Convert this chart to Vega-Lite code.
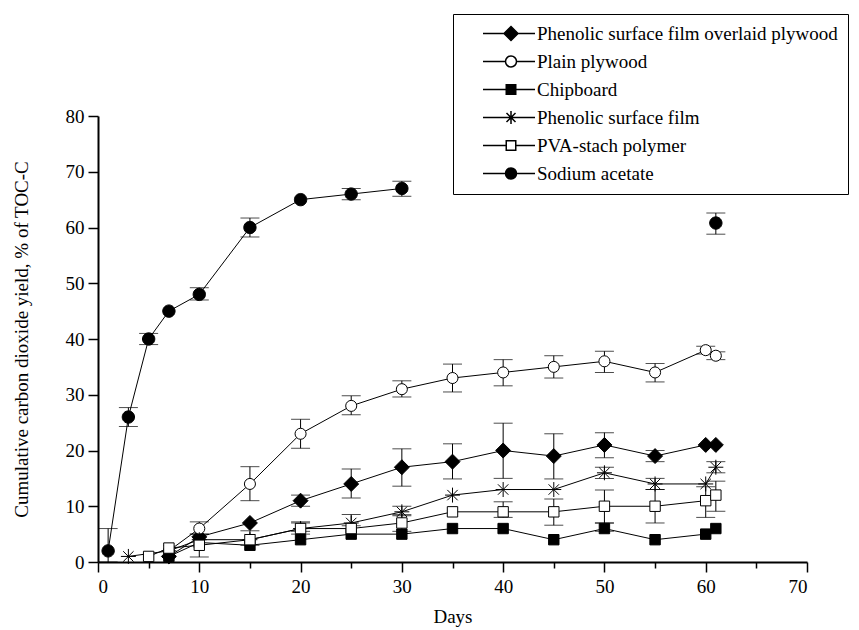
{
  "$schema": "https://vega.github.io/schema/vega-lite/v6.json",
  "width": 709,
  "height": 446,
  "autosize": {"type": "none"},
  "padding": {"left": 98, "top": 116, "right": 52, "bottom": 68},
  "background": "white",
  "config": {
    "view": {"stroke": null},
    "font": "Liberation Serif, Times New Roman, serif",
    "axis": {
      "grid": false,
      "domainColor": "black",
      "domainWidth": 2,
      "tickColor": "black",
      "tickWidth": 1.5,
      "labelColor": "black",
      "titleColor": "black",
      "labelFont": "Liberation Serif, Times New Roman, serif",
      "titleFont": "Liberation Serif, Times New Roman, serif",
      "labelFontSize": 19,
      "titleFontSize": 19,
      "titleFontWeight": "normal"
    }
  },
  "data": {
    "values": [
      {"series": "Phenolic surface film overlaid plywood", "grp": "a", "day": 7, "y": 1},
      {"series": "Phenolic surface film overlaid plywood", "grp": "a", "day": 10, "y": 4.5},
      {"series": "Phenolic surface film overlaid plywood", "grp": "a", "day": 15, "y": 7},
      {"series": "Phenolic surface film overlaid plywood", "grp": "a", "day": 20, "y": 11, "lo": 10, "hi": 12},
      {"series": "Phenolic surface film overlaid plywood", "grp": "a", "day": 25, "y": 14, "lo": 11.5, "hi": 16.7},
      {"series": "Phenolic surface film overlaid plywood", "grp": "a", "day": 30, "y": 17, "lo": 13.6, "hi": 20.3},
      {"series": "Phenolic surface film overlaid plywood", "grp": "a", "day": 35, "y": 18, "lo": 14.9, "hi": 21.2},
      {"series": "Phenolic surface film overlaid plywood", "grp": "a", "day": 40, "y": 20, "lo": 15, "hi": 24.9},
      {"series": "Phenolic surface film overlaid plywood", "grp": "a", "day": 45, "y": 19, "lo": 14.9, "hi": 23},
      {"series": "Phenolic surface film overlaid plywood", "grp": "a", "day": 50, "y": 21, "lo": 18.7, "hi": 23.2},
      {"series": "Phenolic surface film overlaid plywood", "grp": "a", "day": 55, "y": 19, "lo": 18, "hi": 20},
      {"series": "Phenolic surface film overlaid plywood", "grp": "a", "day": 60, "y": 21},
      {"series": "Phenolic surface film overlaid plywood", "grp": "a", "day": 61, "y": 21},

      {"series": "Plain plywood", "grp": "b", "day": 7, "y": 2},
      {"series": "Plain plywood", "grp": "b", "day": 10, "y": 6, "lo": 5, "hi": 7.2},
      {"series": "Plain plywood", "grp": "b", "day": 15, "y": 14, "lo": 11, "hi": 17.1},
      {"series": "Plain plywood", "grp": "b", "day": 20, "y": 23, "lo": 20.4, "hi": 25.6},
      {"series": "Plain plywood", "grp": "b", "day": 25, "y": 28, "lo": 26.4, "hi": 29.8},
      {"series": "Plain plywood", "grp": "b", "day": 30, "y": 31, "lo": 29.6, "hi": 32.5},
      {"series": "Plain plywood", "grp": "b", "day": 35, "y": 33, "lo": 30.5, "hi": 35.5},
      {"series": "Plain plywood", "grp": "b", "day": 40, "y": 34, "lo": 31.6, "hi": 36.3},
      {"series": "Plain plywood", "grp": "b", "day": 45, "y": 35, "lo": 33, "hi": 37},
      {"series": "Plain plywood", "grp": "b", "day": 50, "y": 36, "lo": 34, "hi": 37.8},
      {"series": "Plain plywood", "grp": "b", "day": 55, "y": 34, "lo": 32.3, "hi": 35.6},
      {"series": "Plain plywood", "grp": "b", "day": 60, "y": 38, "lo": 37.3, "hi": 38.7},
      {"series": "Plain plywood", "grp": "b", "day": 61, "y": 37, "lo": 36.3, "hi": 37.7},

      {"series": "Chipboard", "grp": "c", "day": 7, "y": 1},
      {"series": "Chipboard", "grp": "c", "day": 10, "y": 3.5},
      {"series": "Chipboard", "grp": "c", "day": 15, "y": 3},
      {"series": "Chipboard", "grp": "c", "day": 20, "y": 4},
      {"series": "Chipboard", "grp": "c", "day": 25, "y": 5},
      {"series": "Chipboard", "grp": "c", "day": 30, "y": 5},
      {"series": "Chipboard", "grp": "c", "day": 35, "y": 6},
      {"series": "Chipboard", "grp": "c", "day": 40, "y": 6},
      {"series": "Chipboard", "grp": "c", "day": 45, "y": 4},
      {"series": "Chipboard", "grp": "c", "day": 50, "y": 6, "lo": 5.5, "hi": 7},
      {"series": "Chipboard", "grp": "c", "day": 55, "y": 4},
      {"series": "Chipboard", "grp": "c", "day": 60, "y": 5},
      {"series": "Chipboard", "grp": "c", "day": 61, "y": 6},

      {"series": "Phenolic surface film", "grp": "d", "day": 3, "y": 1},
      {"series": "Phenolic surface film", "grp": "d", "day": 7, "y": 2},
      {"series": "Phenolic surface film", "grp": "d", "day": 10, "y": 4},
      {"series": "Phenolic surface film", "grp": "d", "day": 15, "y": 4},
      {"series": "Phenolic surface film", "grp": "d", "day": 20, "y": 6, "lo": 5.5, "hi": 7.2},
      {"series": "Phenolic surface film", "grp": "d", "day": 25, "y": 7, "lo": 6.5, "hi": 8.5},
      {"series": "Phenolic surface film", "grp": "d", "day": 30, "y": 9, "lo": 8.3, "hi": 10},
      {"series": "Phenolic surface film", "grp": "d", "day": 35, "y": 12},
      {"series": "Phenolic surface film", "grp": "d", "day": 40, "y": 13},
      {"series": "Phenolic surface film", "grp": "d", "day": 45, "y": 13},
      {"series": "Phenolic surface film", "grp": "d", "day": 50, "y": 16, "lo": 15, "hi": 17},
      {"series": "Phenolic surface film", "grp": "d", "day": 55, "y": 14, "lo": 13, "hi": 15},
      {"series": "Phenolic surface film", "grp": "d", "day": 60, "y": 14},
      {"series": "Phenolic surface film", "grp": "d", "day": 61, "y": 17, "lo": 16, "hi": 18},

      {"series": "PVA-stach polymer", "grp": "e", "day": 5, "y": 1},
      {"series": "PVA-stach polymer", "grp": "e", "day": 7, "y": 2.5},
      {"series": "PVA-stach polymer", "grp": "e", "day": 10, "y": 3, "lo": 0.9, "hi": 5},
      {"series": "PVA-stach polymer", "grp": "e", "day": 15, "y": 4, "lo": 3, "hi": 5.6},
      {"series": "PVA-stach polymer", "grp": "e", "day": 20, "y": 6, "lo": 5, "hi": 7},
      {"series": "PVA-stach polymer", "grp": "e", "day": 25, "y": 6},
      {"series": "PVA-stach polymer", "grp": "e", "day": 30, "y": 7, "lo": 5.5, "hi": 8.5},
      {"series": "PVA-stach polymer", "grp": "e", "day": 35, "y": 9},
      {"series": "PVA-stach polymer", "grp": "e", "day": 40, "y": 9, "lo": 8, "hi": 10.8},
      {"series": "PVA-stach polymer", "grp": "e", "day": 45, "y": 9, "lo": 6.6, "hi": 11.3},
      {"series": "PVA-stach polymer", "grp": "e", "day": 50, "y": 10, "lo": 7, "hi": 12.9},
      {"series": "PVA-stach polymer", "grp": "e", "day": 55, "y": 10, "lo": 7, "hi": 13},
      {"series": "PVA-stach polymer", "grp": "e", "day": 60, "y": 11, "lo": 8, "hi": 13.5},
      {"series": "PVA-stach polymer", "grp": "e", "day": 61, "y": 12, "lo": 9.1, "hi": 14.5},

      {"series": "Sodium acetate", "grp": "f", "day": 1, "y": 2, "lo": 0, "hi": 6},
      {"series": "Sodium acetate", "grp": "f", "day": 3, "y": 26, "lo": 24.3, "hi": 27.7},
      {"series": "Sodium acetate", "grp": "f", "day": 5, "y": 40, "lo": 39, "hi": 41},
      {"series": "Sodium acetate", "grp": "f", "day": 7, "y": 45},
      {"series": "Sodium acetate", "grp": "f", "day": 10, "y": 48, "lo": 47, "hi": 49.2},
      {"series": "Sodium acetate", "grp": "f", "day": 15, "y": 60, "lo": 58.3, "hi": 61.7},
      {"series": "Sodium acetate", "grp": "f", "day": 20, "y": 65},
      {"series": "Sodium acetate", "grp": "f", "day": 25, "y": 66, "lo": 65, "hi": 67},
      {"series": "Sodium acetate", "grp": "f", "day": 30, "y": 67, "lo": 65.6, "hi": 68.3},
      {"series": "Sodium acetate", "grp": "g", "day": 61, "y": 60.8, "lo": 58.8, "hi": 62.6}
    ]
  },
  "resolve": {
    "scale": {"shape": "independent", "fill": "independent"},
    "legend": {"shape": "independent", "fill": "independent"}
  },
  "layer": [
    {
      "transform": [{"filter": "isValid(datum.lo)"}],
      "mark": {
        "type": "errorbar",
        "ticks": {"size": 19, "thickness": 1, "color": "black"},
        "rule": {"color": "black", "strokeWidth": 1}
      },
      "encoding": {
        "x": {"field": "day", "type": "quantitative", "scale": {"domain": [0, 70], "nice": false}, "title": "Days"},
        "y": {"field": "lo", "type": "quantitative", "scale": {"domain": [0, 80], "nice": false}, "title": "Cumulative carbon dioxide yield, % of TOC-C"},
        "y2": {"field": "hi"}
      }
    },
    {
      "mark": {"type": "line", "color": "black", "strokeWidth": 1},
      "encoding": {
        "x": {"field": "day", "type": "quantitative", "title": "Days"},
        "y": {"field": "y", "type": "quantitative", "title": "Cumulative carbon dioxide yield, % of TOC-C"},
        "detail": {"field": "grp"}
      }
    },
    {
      "mark": {"type": "point", "filled": true, "size": 169, "stroke": "black", "strokeWidth": 1, "opacity": 1},
      "encoding": {
        "x": {
          "field": "day", "type": "quantitative", "title": "Days",
          "axis": {
            "values": [0, 5, 10, 15, 20, 25, 30, 35, 40, 45, 50, 55, 60, 65, 70],
            "labelExpr": "datum.value % 10 === 0 ? datum.label : ''",
            "tickSize": {"condition": {"test": "datum.value % 10 === 0", "value": 10}, "value": 6},
            "labelPadding": 5,
            "titlePadding": 11
          }
        },
        "y": {
          "field": "y", "type": "quantitative", "title": "Cumulative carbon dioxide yield, % of TOC-C",
          "axis": {
            "values": [0, 5, 10, 15, 20, 25, 30, 35, 40, 45, 50, 55, 60, 65, 70, 75, 80],
            "labelExpr": "datum.value % 10 === 0 ? datum.label : ''",
            "tickSize": {"condition": {"test": "datum.value % 10 === 0", "value": 10}, "value": 6},
            "labelPadding": 4,
            "titlePadding": 34
          }
        },
        "shape": {
          "field": "series", "type": "nominal",
          "scale": {
            "domain": ["Phenolic surface film overlaid plywood", "Plain plywood", "Chipboard", "Phenolic surface film", "PVA-stach polymer", "Sodium acetate"],
            "range": [
              "M0,-1.15L1.15,0L0,1.15L-1.15,0Z",
              "M-0.85,0A0.85,0.85,0,1,1,0.85,0A0.85,0.85,0,1,1,-0.85,0Z",
              "M-0.8,-0.8L0.8,-0.8L0.8,0.8L-0.8,0.8Z",
              "M-1.15,0L1.15,0M0,-1.15L0,1.15M-0.8,-0.8L0.8,0.8M-0.8,0.8L0.8,-0.8",
              "M-0.8,-0.8L0.8,-0.8L0.8,0.8L-0.8,0.8Z",
              "M-0.95,0A0.95,0.95,0,1,1,0.95,0A0.95,0.95,0,1,1,-0.95,0Z"
            ]
          },
          "legend": null
        },
        "fill": {
          "field": "series", "type": "nominal",
          "scale": {
            "domain": ["Phenolic surface film overlaid plywood", "Plain plywood", "Chipboard", "Phenolic surface film", "PVA-stach polymer", "Sodium acetate"],
            "range": ["black", "white", "black", "black", "white", "black"]
          },
          "legend": null
        }
      }
    },
    {
      "transform": [{"filter": "datum.day < 0"}],
      "mark": {"type": "point", "filled": true, "size": 100, "stroke": "black", "strokeWidth": 1, "opacity": 1},
      "encoding": {
        "x": {"field": "day", "type": "quantitative", "title": "Days"},
        "y": {"field": "y", "type": "quantitative", "title": "Cumulative carbon dioxide yield, % of TOC-C"},
        "shape": {
          "field": "series", "type": "nominal",
          "scale": {
            "domain": ["Phenolic surface film overlaid plywood", "Plain plywood", "Chipboard", "Phenolic surface film", "PVA-stach polymer", "Sodium acetate"],
            "range": [
              "M2.1,0L6.3,0M9.1,0L12.5,0M7.7,-1.4L9.1,0L7.7,1.4L6.3,0Z",
              "M2.1,0L6.6,0M8.8,0L12.5,0M6.6,0A1.1,1.1,0,1,1,8.8,0A1.1,1.1,0,1,1,6.6,0Z",
              "M2.1,0L6.75,0M8.65,0L12.5,0M6.75,-0.95L8.65,-0.95L8.65,0.95L6.75,0.95Z",
              "M2.1,0L12.5,0M7.7,-1.3L7.7,1.3M6.8,-0.9L8.6,0.9M6.8,0.9L8.6,-0.9",
              "M2.1,0L6.75,0M8.65,0L12.5,0M6.75,-0.95L8.65,-0.95L8.65,0.95L6.75,0.95Z",
              "M2.1,0L6.6,0M8.8,0L12.5,0M6.6,0A1.1,1.1,0,1,1,8.8,0A1.1,1.1,0,1,1,6.6,0Z"
            ]
          },
          "legend": {
            "orient": "none",
            "legendX": 355,
            "legendY": -102,
            "title": null,
            "strokeColor": "black",
            "padding": 10,
            "symbolSize": 100,
            "labelFont": "Liberation Serif, Times New Roman, serif",
            "labelFontSize": 19,
            "labelColor": "black",
            "labelOffset": 55,
            "labelLimit": 400,
            "rowPadding": 8
          }
        },
        "fill": {
          "field": "series", "type": "nominal",
          "scale": {
            "domain": ["Phenolic surface film overlaid plywood", "Plain plywood", "Chipboard", "Phenolic surface film", "PVA-stach polymer", "Sodium acetate"],
            "range": ["black", "white", "black", "black", "white", "black"]
          },
          "legend": null
        }
      }
    }
  ]
}
